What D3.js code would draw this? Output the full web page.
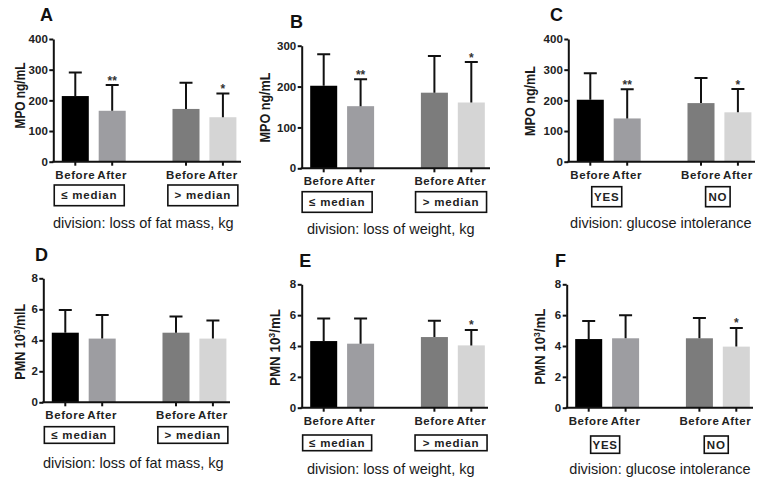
<!DOCTYPE html>
<html>
<head>
<meta charset="utf-8">
<script src="https://cdn.jsdelivr.net/npm/d3@7"></script>
<style>
body { margin: 0; background: #fff; }
svg { display: block; font-family: "Liberation Sans", Arial, sans-serif; }
</style>
</head>
<body>
<div id="chart"></div>
<script>
// categories
var timepoints = ["Before", "After", "Before", "After"];
var medianGroups = ["≤ median", "> median"];
var glucoseGroups = ["YES", "NO"];
var divisions = ["division: loss of fat mass, kg", "division: loss of weight, kg", "division: glucose intolerance"];

// MPO ng/mL, mean and SD
var mpoFatMean = [214, 166, 172, 145];
var mpoFatSd = [77, 84, 85, 77];
var mpoWeightMean = [202, 152, 185, 161];
var mpoWeightSd = [77, 66, 90, 99];
var mpoGlucoseMean = [202, 141, 191, 161];
var mpoGlucoseSd = [86, 95, 82, 76];

// PMN 10^3/mL, mean and SD
var pmnFatMean = [4.49, 4.11, 4.49, 4.11];
var pmnFatSd = [1.47, 1.52, 1.04, 1.16];
var pmnWeightMean = [4.32, 4.15, 4.58, 4.04];
var pmnWeightSd = [1.47, 1.64, 1.06, 1.0];
var pmnGlucoseMean = [4.45, 4.5, 4.5, 3.96];
var pmnGlucoseSd = [1.17, 1.49, 1.32, 1.21];

// significance marks
var starsA = ["", "**", "", "*"];
var starsB = ["", "**", "", "*"];
var starsC = ["", "**", "", "*"];
var starsD = ["", "", "", ""];
var starsE = ["", "", "", "*"];
var starsF = ["", "", "", "*"];

// y ticks
var mpoTicks400 = [0, 100, 200, 300, 400];
var mpoTicks300 = [0, 100, 200, 300];
var pmnTicks = [0, 2, 4, 6, 8];

var barColors = ["#000000", "#9d9da1", "#7c7c7c", "#d5d5d5"];
var barKeys = ["b1", "a1", "b2", "a2"];

var svg = d3.select("#chart").append("svg")
	.attr("width", 764)
	.attr("height", 489);

var panels = [
	{ letter: "A", lx: 40, ly: 21, label: "MPO", labX: 20, labY: 95.5, labLen: 66, mean: mpoFatMean, sd: mpoFatSd, stars: starsA,
	  ax: 53.3, axEnd: 241, y0: 161.7, yTop: 39, max: 400, ticks: mpoTicks400, groups: medianGroups, boxW: [70, 70], boxOff: [-4.5, -1.6],
	  boxTop: 23.3, boxH: 20.7, division: divisions[0], divX: 90 },
	{ letter: "B", lx: 290, ly: 28.3, label: "MPO", labX: 265, labY: 107.5, labLen: 70, mean: mpoWeightMean, sd: mpoWeightSd, stars: starsB,
	  ax: 301.7, axEnd: 490, y0: 168.3, yTop: 45.7, max: 300, ticks: mpoTicks300, groups: medianGroups, boxW: [70, 71], boxOff: [-5, -1.8],
	  boxTop: 23.4, boxH: 20.6, division: divisions[1], divX: 89 },
	{ letter: "C", lx: 550, ly: 20.7, label: "MPO", labX: 530, labY: 101, labLen: 70, mean: mpoGlucoseMean, sd: mpoGlucoseSd, stars: starsC,
	  ax: 568.3, axEnd: 755, y0: 161.7, yTop: 39, max: 400, ticks: mpoTicks400, groups: glucoseGroups, boxW: [30, 24.5], boxOff: [-2, -1.6],
	  boxTop: 25, boxH: 20, division: divisions[2], divX: 92.5 },
	{ letter: "D", lx: 35, ly: 260.7, label: "PMNl", labX: 19.3, labY: 341.7, labLen: 76, mean: pmnFatMean, sd: pmnFatSd, stars: starsD,
	  ax: 43.3, axEnd: 230, y0: 402.3, yTop: 278.3, max: 8, ticks: pmnTicks, groups: medianGroups, boxW: [70, 70], boxOff: [-4.4, -1.6],
	  boxTop: 24.4, boxH: 16.6, division: divisions[0], divX: 90 },
	{ letter: "E", lx: 299.3, ly: 267.3, label: "PMN", labX: 275, labY: 347.5, labLen: 77, mean: pmnWeightMean, sd: pmnWeightSd, stars: starsE,
	  ax: 301.7, axEnd: 488, y0: 407.7, yTop: 284.3, max: 8, ticks: pmnTicks, groups: medianGroups, boxW: [69, 72], boxOff: [-5, -1.8],
	  boxTop: 27.3, boxH: 15.7, division: divisions[1], divX: 89 },
	{ letter: "F", lx: 555, ly: 267.3, label: "PMN", labX: 540, labY: 346.7, labLen: 76, mean: pmnGlucoseMean, sd: pmnGlucoseSd, stars: starsF,
	  ax: 566.7, axEnd: 753, y0: 407.7, yTop: 284.3, max: 8, ticks: pmnTicks, groups: glucoseGroups, boxW: [29, 24], boxOff: [-2, -1.6],
	  boxTop: 28.3, boxH: 17.3, division: divisions[2], divX: 93.3 }
];

function drawPanel(p) {
	var g = svg.append("g");

	var x = d3.scaleBand()
		.domain(["b1", "a1", "gap", "b2", "a2"])
		.range([p.ax, p.ax + 191.6])
		.paddingInner(0.268)
		.paddingOuter(0.23);

	var y = d3.scaleLinear()
		.domain([0, p.max])
		.range([p.y0, p.yTop]);

	var data = barKeys.map(function(k, i) {
		return { key: k, name: timepoints[i], mean: p.mean[i], sd: p.sd[i], star: p.stars[i], color: barColors[i] };
	});

	// bars
	g.selectAll(".bar").data(data).enter()
		.append("rect")
			.attr("class", "bar")
			.attr("x", function(d) { return x(d.key); })
			.attr("width", x.bandwidth())
			.attr("y", function(d) { return y(d.mean); })
			.attr("height", function(d) { return p.y0 - y(d.mean); })
			.attr("fill", function(d) { return d.color; });

	// error bars (upper only)
	var cx = function(d) { return x(d.key) + x.bandwidth() / 2; };
	g.selectAll(".err").data(data).enter()
		.append("path")
			.attr("class", "err")
			.attr("d", function(d) {
				var c = cx(d), top = y(d.mean + d.sd);
				return "M" + c + "," + y(d.mean) + "V" + top + "M" + (c - 6.5) + "," + top + "H" + (c + 6.5);
			})
			.attr("stroke", "#111")
			.attr("stroke-width", 2)
			.attr("fill", "none");

	g.selectAll(".star").data(data).enter()
		.append("text")
			.attr("class", "star")
			.attr("x", cx)
			.attr("y", function(d) { return y(d.mean + d.sd) - 0.5; })
			.attr("text-anchor", "middle")
			.attr("font-size", 12)
			.attr("font-weight", "bold")
			.attr("fill", "#333")
			.text(function(d) { return d.star; });

	// y axis
	var yAxis = g.append("g")
		.attr("transform", "translate(" + p.ax + ",0)")
		.call(d3.axisLeft(y).tickValues(p.ticks).tickSize(4).tickSizeOuter(0).tickPadding(1.5));
	yAxis.select(".domain").attr("stroke-width", 2).attr("stroke", "#111");
	yAxis.selectAll(".tick line").attr("stroke-width", 2).attr("stroke", "#111");
	yAxis.selectAll(".tick text")
		.attr("font-family", "Liberation Sans, Arial, sans-serif")
		.attr("font-size", 11.5)
		.attr("font-weight", "bold")
		.attr("fill", "#222");

	// x axis
	var xAxis = g.append("g")
		.attr("transform", "translate(0," + p.y0 + ")")
		.call(d3.axisBottom(x).tickValues(barKeys).tickSize(4).tickPadding(5)
			.tickFormat(function(k) { return timepoints[barKeys.indexOf(k)]; }));
	xAxis.select(".domain").remove();
	xAxis.append("line")
		.attr("x1", p.ax - 1).attr("x2", p.axEnd)
		.attr("stroke", "#111").attr("stroke-width", 2);
	xAxis.selectAll(".tick line").attr("stroke-width", 2).attr("stroke", "#111");
	xAxis.selectAll(".tick text")
		.attr("font-family", "Liberation Sans, Arial, sans-serif")
		.attr("font-size", 11.5)
		.attr("font-weight", "bold")
		.attr("letter-spacing", 0.6)
		.attr("fill", "#222");

	// group boxes
	[0, 1].forEach(function(gi) {
		var mid = (cx(data[gi * 2]) + cx(data[gi * 2 + 1])) / 2 + p.boxOff[gi];
		var top = p.y0 + p.boxTop;
		g.append("rect")
			.attr("x", mid - p.boxW[gi] / 2)
			.attr("y", top)
			.attr("width", p.boxW[gi])
			.attr("height", p.boxH)
			.attr("fill", "none")
			.attr("stroke", "#111")
			.attr("stroke-width", 1.6);
		g.append("text")
			.attr("x", mid)
			.attr("y", top + p.boxH / 2 + 4)
			.attr("text-anchor", "middle")
			.attr("font-size", 11.5)
			.attr("font-weight", "bold")
			.attr("letter-spacing", 0.8)
			.attr("fill", "#222")
			.text(p.groups[gi]);
	});

	// division label
	g.append("text")
		.attr("x", p.ax + p.divX)
		.attr("y", p.y0 + 61 + 5)
		.attr("text-anchor", "middle")
		.attr("font-size", 14.5)
		.attr("fill", "#1a1a1a")
		.text(p.division);

	// y label
	var lab = g.append("text")
		.attr("transform", "translate(" + p.labX + "," + p.labY + ") rotate(-90)")
		.attr("text-anchor", "middle")
		.attr("dy", "0.36em")
		.attr("font-size", 14.5)
		.attr("font-weight", "bold")
		.attr("textLength", p.labLen)
		.attr("lengthAdjust", "spacingAndGlyphs")
		.attr("fill", "#1a1a1a");
	if (p.label === "MPO") {
		lab.text("MPO ng/mL");
	} else {
		lab.append("tspan").text("PMN 10");
		lab.append("tspan").attr("dy", -5).attr("font-size", 9.5).text("3");
		lab.append("tspan").attr("dy", 5).text(p.label === "PMNl" ? "/mlL" : "/mL");
	}

	// panel letter
	g.append("text")
		.attr("x", p.lx)
		.attr("y", p.ly)
		.attr("font-size", 18)
		.attr("font-weight", "bold")
		.attr("fill", "#111")
		.text(p.letter);
}

panels.forEach(drawPanel);
</script>
</body>
</html>
